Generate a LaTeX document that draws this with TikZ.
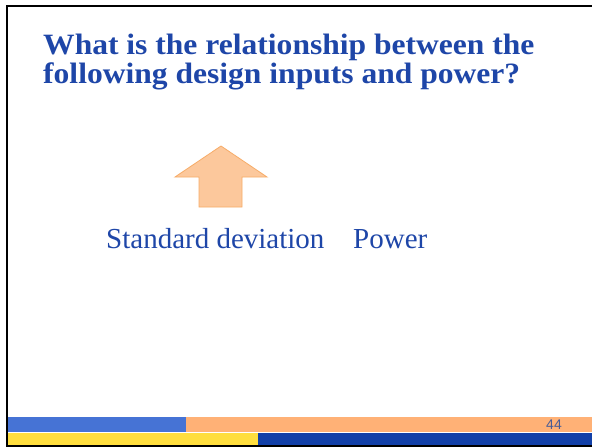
\documentclass[tikz,border=0pt]{standalone}
\usepackage{fontspec}
\setmainfont{Liberation Serif}
\newfontfamily\titlefont[FakeStretch=1.07]{Liberation Serif}
\newfontfamily\pagefont{Liberation Sans}

\definecolor{textblue}{RGB}{30,70,168}
\definecolor{barblue}{RGB}{70,115,213}
\definecolor{barorange}{RGB}{255,177,118}
\definecolor{baryellow}{RGB}{255,222,62}
\definecolor{bardark}{RGB}{18,64,168}
\definecolor{arrowfill}{RGB}{252,200,156}
\definecolor{arrowline}{RGB}{247,172,104}
\definecolor{pagegray}{RGB}{72,92,150}

\begin{document}
\begin{tikzpicture}[x=1pt,y=-1pt]
\tikzstyle{every node}+=[inner sep=0pt]
\tikzstyle{heading}=[text=textblue, font=\titlefont\bfseries\fontsize{29.5}{30}\selectfont, anchor=base west]
\tikzstyle{label}=[text=textblue, font=\fontsize{29}{30}\selectfont, anchor=base west]
\useasboundingbox (0,0) rectangle (592,447);
\fill [white] (0,0) rectangle (592,447);
% footer bars
\fill [barblue] (8,417) rectangle (186,432);
\fill [barorange] (186,417) rectangle (592,432);
\fill [baryellow] (8,433) rectangle (258,445);
\fill [bardark] (258,433) rectangle (592,445);
% frame
\draw [black, line width=2] (594,6) -- (7,6) -- (7,446) -- (594,446);
% title
\node [heading] (line1) at (43,54) {What is the relationship between the};
\node [heading] (line2) at (43,83) {following design inputs and power?};
% up arrow
\draw [arrowline, fill=arrowfill, line width=0.8, line join=miter]
  (221,146) -- (267,177) -- (242,177) -- (242,207) -- (199,207)
  -- (199,177) -- (175,177) -- cycle;
% labels
\node [label] (sd) at (106,248) {Standard deviation};
\node [label] (power) at (353,248) {Power};
\node [text=pagegray, font=\pagefont\fontsize{14}{14}\selectfont, anchor=base east] (page) at (562,429) {44};
\end{tikzpicture}
\end{document}
